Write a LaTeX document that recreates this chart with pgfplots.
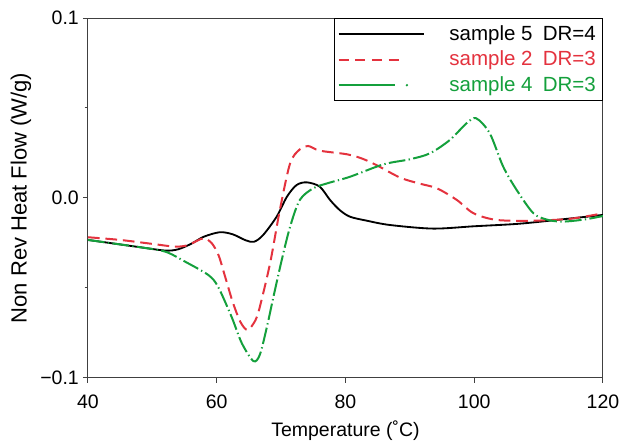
\documentclass[border=0pt]{standalone}
\usepackage{pgfplots}
\pgfplotsset{compat=1.18}
\usepackage{fontspec}
\setmainfont{Liberation Sans}
\definecolor{cred}{HTML}{E4323E}
\definecolor{cgreen}{HTML}{14A03C}

\begin{document}
\begin{tikzpicture}
% 1px of the reference = 0.6pt
\useasboundingbox (-52.8pt,-40.8pt) rectangle (319.8pt,226.8pt);
\begin{axis}[
  at={(0,0)}, anchor=south west,
  scale only axis,
  width=309pt, height=216pt,
  xmin=40, xmax=120, ymin=-0.1, ymax=0.1,
  xtick={40,60,80,100,120},
  ytick={-0.1,0,0.1},
  yticklabels={−0.1,0.0,0.1},
  minor ytick={-0.05,0.05},
  tick align=outside,
  xtick pos=bottom, ytick pos=left,
  major tick length=3pt, minor tick length=2pt,
  axis line style={black!75, line width=0.6pt},
  every tick/.style={black!75, line width=0.6pt},
  tick label style={font=\fontsize{11.7}{14}\selectfont},
  xticklabel style={yshift=-3.5pt},
  yticklabel style={xshift=1pt},
  /pgf/number format/assume math mode=true,
  xlabel={Temperature (˚C)},
  ylabel={Non Rev Heat Flow (W/g)},
  xlabel style={font=\fontsize{11.7}{14}\selectfont,
    at={(axis description cs:0.5,0)}, anchor=base, yshift=-35pt},
  ylabel style={font=\fontsize{13.2}{15}\selectfont,
    at={(axis description cs:-0.119,0.5)}, anchor=base},
  legend style={at={(1,1)}, anchor=north east, draw=black, line width=0.6pt,
    font=\fontsize{12.3}{14}\selectfont, row sep=1pt,
    inner xsep=2pt, inner ysep=2pt},
  legend cell align=left,
]
\addplot[black, line width=1.1pt, smooth, tension=0.5,
  legend image code/.code={\draw[solid,black,line width=1.2pt] (0pt,0pt) -- (51pt,0pt); \path[draw=none] (51pt,0pt) -- (64.5pt,0pt);}]
coordinates {
(40,-0.0233) (44,-0.0253) (48,-0.0273) (52,-0.0292) (54,-0.0285) (56,-0.0255)
(58,-0.0215) (60.5,-0.0190) (62.5,-0.0202) (64.5,-0.0235) (65.8,-0.0243)
(67.2,-0.0206) (69.3,-0.0104) (70.9,0.0007) (72.4,0.0072) (74,0.0087)
(76,0.0063) (77.6,-0.0011) (79.1,-0.0067) (80.7,-0.0104) (83.3,-0.0126)
(86.9,-0.0150) (93.6,-0.0170) (100,-0.0157) (106.6,-0.0144) (112,-0.0125)
(120,-0.0094)};
\addlegendentry{sample 5\hspace{0.5em}DR=4}
\addplot[cred, line width=1.2pt, dash pattern=on 7pt off 3.5pt, smooth, tension=0.5,
  legend image code/.code={\draw[cred,line width=1.2pt,dash pattern=on 6pt off 4pt] (0pt,0pt) -- (38pt,0pt); \path[draw=none] (38pt,0pt) -- (64.5pt,0pt);}]
coordinates {
(40,-0.0218) (45,-0.0233) (50,-0.0255) (53.5,-0.0270) (55.5,-0.0262)
(57.9,-0.0224) (59.2,-0.0250) (60.3,-0.0320) (61.3,-0.0437) (62.5,-0.0580)
(63.7,-0.0690) (64.8,-0.0733) (66,-0.0680) (66.7,-0.0604) (68.3,-0.0360)
(69.8,-0.0067) (71.4,0.0193) (72.9,0.0270) (74.2,0.0289) (76,0.0263)
(80.2,0.0243) (82.5,0.0220) (84.8,0.0183) (88.5,0.0113) (91.5,0.0080)
(94.2,0.0054) (97.3,-0.0011) (99.9,-0.0085) (103.5,-0.0122) (109.2,-0.0126)
(115,-0.0115) (120,-0.0085)};
\addlegendentry{\textcolor{cred}{sample 2\hspace{0.5em}DR=3}}
\addplot[cgreen, line width=1.2pt, dash pattern=on 10pt off 2pt on 0.8pt off 2pt, smooth, tension=0.5,
  legend image code/.code={\draw[solid,cgreen,line width=1.2pt] (0pt,0pt) -- (34pt,0pt); \fill[cgreen,draw=none] (41pt,0pt) circle (0.8pt); \path[draw=none,fill=none] (41pt,0pt) -- (64.5pt,0pt);}]
coordinates {
(40,-0.0233) (44,-0.0253) (48,-0.0273) (52,-0.0298) (55.1,-0.0354)
(58.7,-0.0428) (60.2,-0.0493) (62.3,-0.0660) (63.9,-0.0807) (65.7,-0.0906)
(66.7,-0.0870) (67.8,-0.0715) (68.8,-0.0550) (70.1,-0.0344) (71.4,-0.0159)
(72.9,-0.0011) (75.0,0.0054) (77.5,0.0085) (80.7,0.0118) (85.9,0.0187)
(90,0.0215) (93.1,0.0248) (96.2,0.0322) (98.8,0.0415) (100.3,0.0443)
(102.4,0.0360) (104.5,0.0174) (106.6,0.0044) (109.2,-0.0085) (111.5,-0.0122)
(113.8,-0.0131) (117,-0.0120) (120,-0.0100)};
\addlegendentry{\textcolor{cgreen}{sample 4\hspace{0.5em}DR=3}}
\end{axis}
\end{tikzpicture}
\end{document}
